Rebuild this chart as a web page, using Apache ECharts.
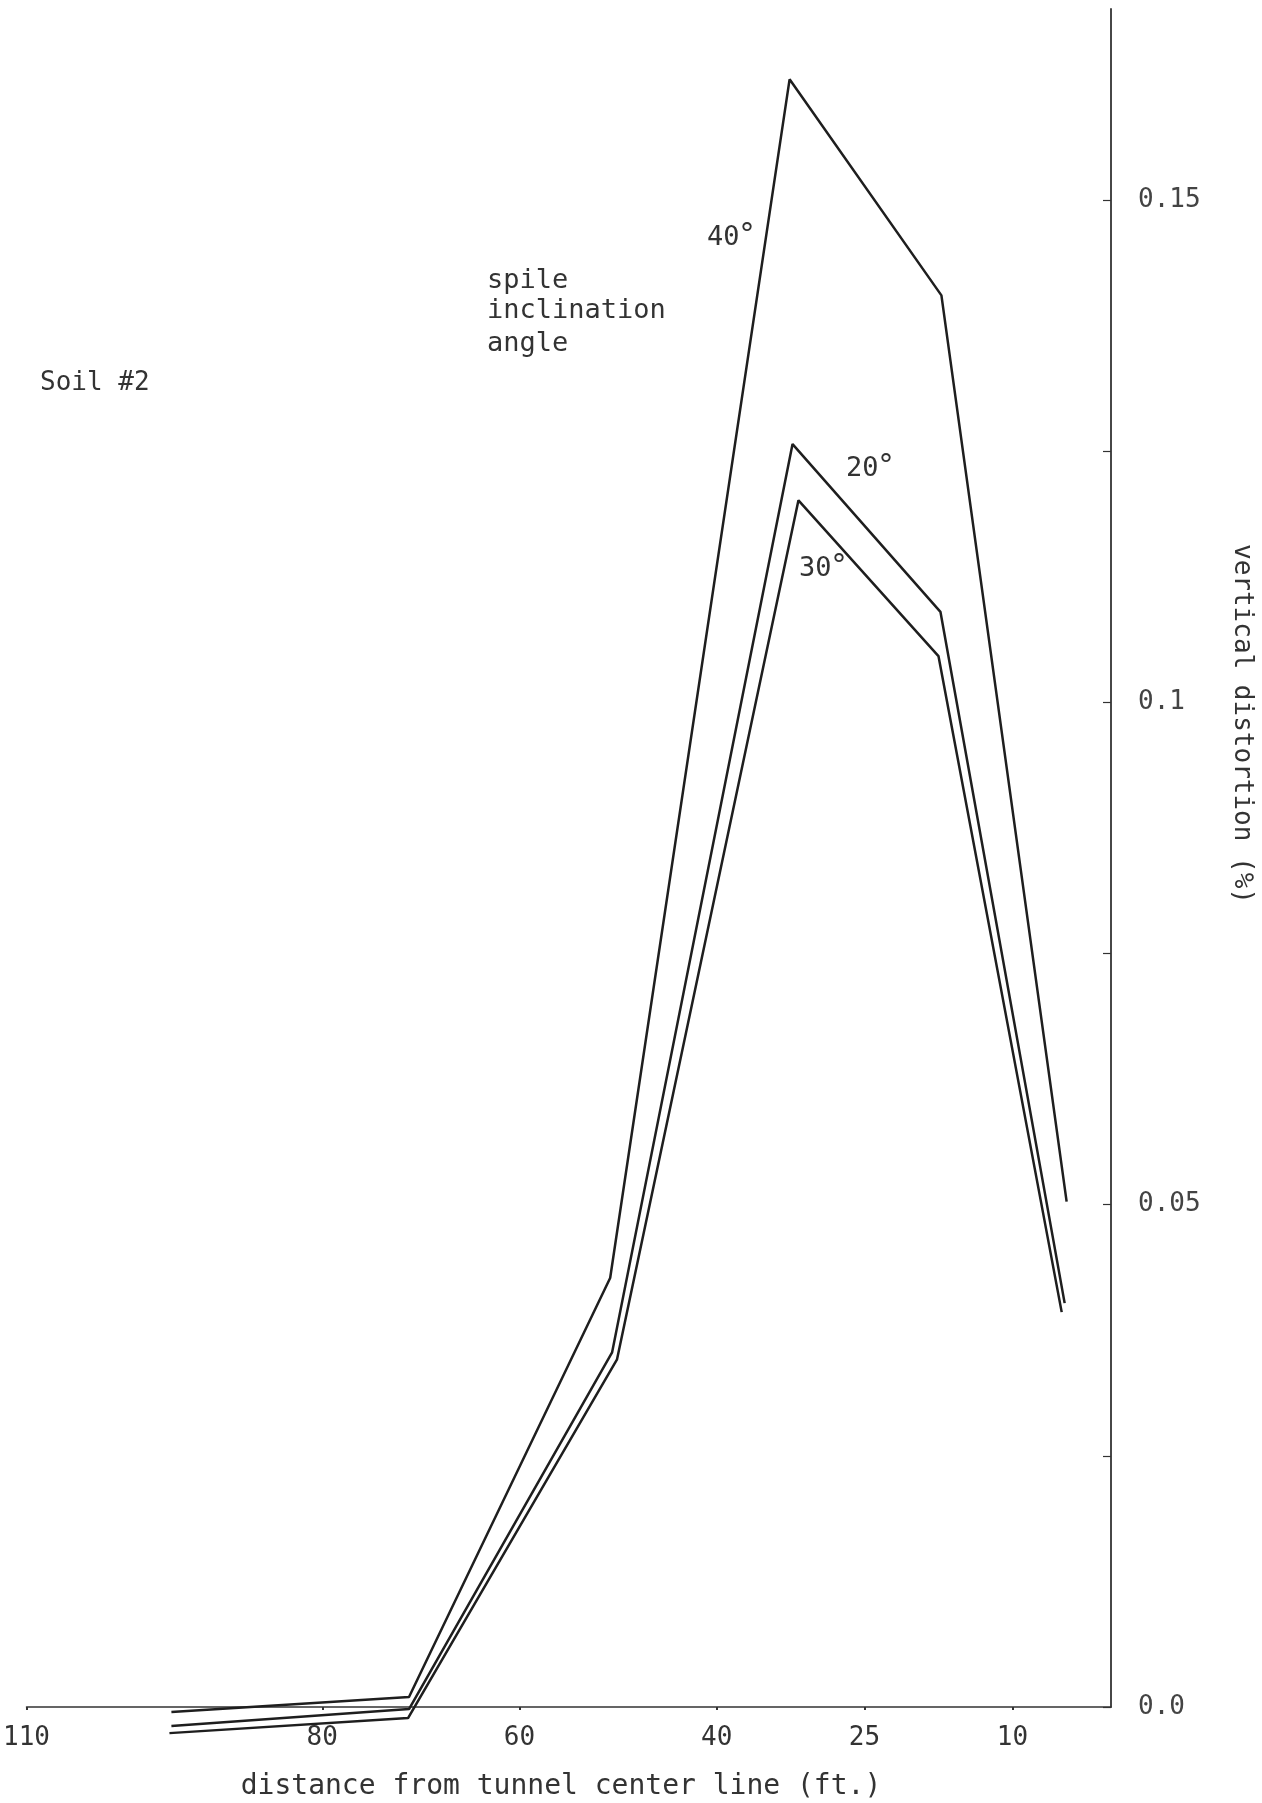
<!DOCTYPE html>
<html>
<head>
<meta charset="utf-8">
<script src="https://cdn.jsdelivr.net/npm/echarts@6/dist/echarts.min.js"></script>
<style>
html,body{margin:0;padding:0;background:#fff;}
#c{width:1262px;height:1803px;}
</style>
</head>
<body>
<div id="c"></div>
<script>
// distance from tunnel center line (ft.) for each curve vertex
const xDeg40 = [95.3, 71.2, 50.8, 32.6, 17.2, 4.5];
const xDeg20 = [95.3, 71.2, 50.6, 32.3, 17.3, 4.7];
const xDeg30 = [95.5, 71.3, 50.1, 31.7, 17.5, 5.0];
// vertical distortion (%)
const yDeg40 = [-0.0005, 0.0010, 0.0427, 0.1620, 0.1405, 0.0503];
const yDeg20 = [-0.0019, -0.0002, 0.0353, 0.1257, 0.1090, 0.0402];
const yDeg30 = [-0.0026, -0.0011, 0.0346, 0.1201, 0.1046, 0.0393];
// axis ticks / labels
const xTickValues = [110, 80, 60, 40, 25, 10];
const yTickValues = [0, 0.025, 0.05, 0.075, 0.1, 0.125, 0.15];
const yLabelValues = [0, 0.05, 0.1, 0.15];
const yLabelText = {0: '0.0', 0.05: '0.05', 0.1: '0.1', 0.15: '0.15'};
const seriesAngles = ['40', '20', '30'];

const FONT = '"DejaVu Sans Mono", monospace';
const TXT = '#333';
const LINE = '#1e1e1e';

function pairs(xs, ys) { return xs.map((x, i) => [x, ys[i]]); }
function degLabel(angle, left, top) {
  return {type: 'text', left: left, top: top, style: {
    text: '{n|' + angle + '}{d|°}',
    fill: TXT,
    rich: {
      n: {fontFamily: FONT, fontSize: 27, fill: TXT, verticalAlign: 'bottom', lineHeight: 30},
      d: {fontFamily: '"DejaVu Sans", sans-serif', fontSize: 30, fill: TXT, verticalAlign: 'top', lineHeight: 30}
    }
  }};
}

const chart = echarts.init(document.getElementById('c'), null, {renderer: 'canvas'});
chart.setOption({
  backgroundColor: '#fff',
  animation: false,
  grid: {left: 25, right: 151, top: 9, bottom: 96, containLabel: false},
  xAxis: {
    type: 'value', inverse: true, min: 0, max: 110,
    axisLine: {show: true, lineStyle: {color: '#333', width: 1.5}},
    axisTick: {show: true, customValues: xTickValues, length: 3, lineStyle: {color: '#333', width: 2}},
    axisLabel: {show: true, customValues: xTickValues, margin: 18, color: TXT,
      fontFamily: FONT, fontSize: 26},
    splitLine: {show: false}
  },
  yAxis: {
    type: 'value', position: 'right', min: 0, max: 0.169,
    axisLine: {show: true, onZero: false, lineStyle: {color: '#333', width: 1.8}},
    axisTick: {show: true, inside: true, length: 8, customValues: yTickValues,
      lineStyle: {color: '#333', width: 1.2}},
    axisLabel: {show: true, customValues: yLabelValues, margin: 27, color: '#444',
      fontFamily: FONT, fontSize: 26,
      formatter: v => yLabelText[Math.round(v * 1000) / 1000] ?? ''},
    splitLine: {show: false}
  },
  series: [
    {name: seriesAngles[0] + '°', type: 'line', data: pairs(xDeg40, yDeg40)},
    {name: seriesAngles[1] + '°', type: 'line', data: pairs(xDeg20, yDeg20)},
    {name: seriesAngles[2] + '°', type: 'line', data: pairs(xDeg30, yDeg30)}
  ].map(s => Object.assign(s, {
    clip: false, symbol: 'none', smooth: false,
    lineStyle: {color: LINE, width: 2.5}
  })),
  graphic: [
    {type: 'text', left: 40, top: 370, style: {text: 'Soil #2', font: '26px ' + FONT, fill: TXT}},
    {type: 'text', left: 487, top: 267, style: {text: 'spile', font: '27px ' + FONT, fill: TXT}},
    {type: 'text', left: 487, top: 297, style: {text: 'inclination', font: '27px ' + FONT, fill: TXT}},
    {type: 'text', left: 487, top: 330, style: {text: 'angle', font: '27px ' + FONT, fill: TXT}},
    degLabel(seriesAngles[0], 707, 221),
    degLabel(seriesAngles[1], 846, 452),
    degLabel(seriesAngles[2], 799, 552),
    {type: 'text', x: 561, y: 1787, style: {text: 'distance from tunnel center line (ft.)',
      font: '28px ' + FONT, fill: TXT, align: 'center', verticalAlign: 'middle'}},
    {type: 'text', x: 1242, y: 724, rotation: -Math.PI / 2, style: {text: 'vertical distortion (%)',
      font: '26px ' + FONT, fill: TXT, align: 'center', verticalAlign: 'middle'}}
  ]
});
</script>
</body>
</html>
